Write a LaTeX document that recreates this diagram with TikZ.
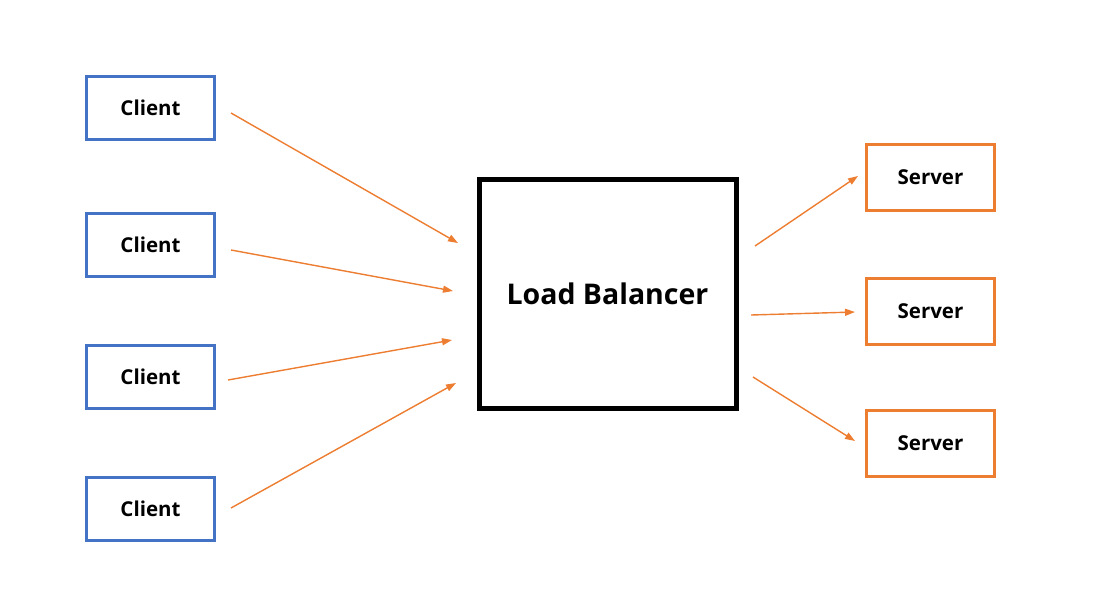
\documentclass[tikz,border=0pt]{standalone}
\usepackage{fontspec}
\setmainfont{Open Sans}
\usetikzlibrary{arrows.meta}
\definecolor{cblue}{RGB}{68,114,196}
\definecolor{corange}{RGB}{237,125,49}
\begin{document}
\begin{tikzpicture}[x=1pt,y=-1pt,
 client/.style={draw=cblue,line width=3pt,minimum width=128pt,minimum height=63pt,font=\fontsize{20.5}{24}\selectfont\bfseries,inner sep=0pt},
 server/.style={draw=corange,line width=3pt,minimum width=128pt,minimum height=66pt,font=\fontsize{20.5}{24}\selectfont\bfseries,inner sep=0pt},
 arr/.style={corange,line width=1.4pt,-{Triangle[length=10pt,width=7pt]}}]
\useasboundingbox (0,0) rectangle (1094,613);
\node[client] (c1) at (150.5,108) {Client};
\node[client] (c2) at (150.5,244.5) {Client};
\node[client] (c3) at (150.5,377) {Client};
\node[client] (c4) at (150.5,509) {Client};
\node[draw=black,line width=5pt,minimum width=257pt,minimum height=229pt,font=\fontsize{28.5}{32}\selectfont\bfseries] (lb) at (607.5,293.5) {Load Balancer};
\node[server] (s1) at (930.5,177) {Server};
\node[server] (s2) at (930.5,311) {Server};
\node[server] (s3) at (930.5,443) {Server};
\coordinate (a1) at (231,113); \coordinate (b1) at (458,243);
\coordinate (a2) at (231,250); \coordinate (b2) at (453,291);
\coordinate (a3) at (228,380); \coordinate (b3) at (452,340);
\coordinate (a4) at (231,508); \coordinate (b4) at (456,383);
\coordinate (d1) at (755,246); \coordinate (e1) at (858,176);
\coordinate (d2) at (751,315); \coordinate (e2) at (855,312);
\coordinate (d3) at (753,377); \coordinate (e3) at (855,441);
\foreach \i in {1,2,3,4} \draw[arr] (a\i) -- (b\i);
\foreach \i in {1,2,3} \draw[arr] (d\i) -- (e\i);
\end{tikzpicture}
\end{document}
